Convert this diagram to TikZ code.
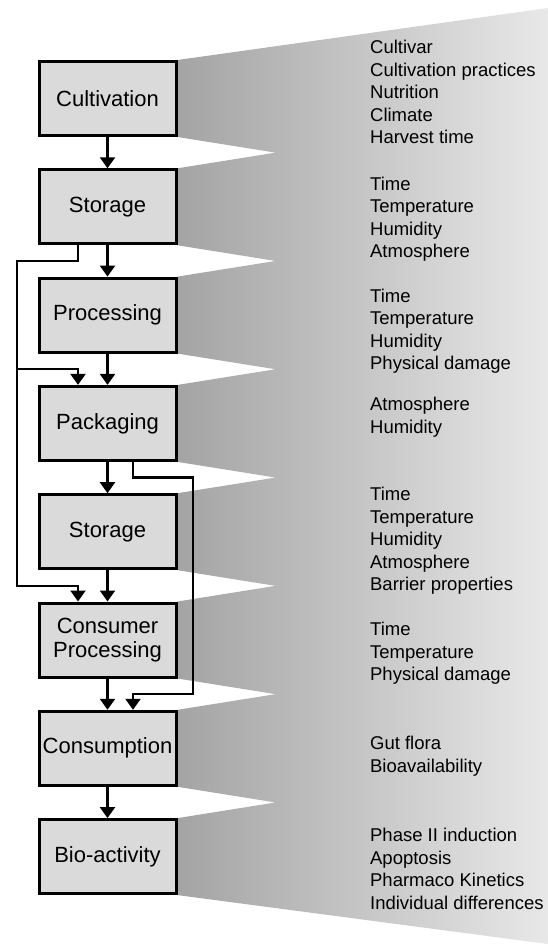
\documentclass[tikz,border=0pt]{standalone}
\usepackage{fontspec}
\setmainfont{Liberation Sans}
\usetikzlibrary{arrows.meta,calc,backgrounds}
\definecolor{boxgray}{HTML}{DADADA}
\definecolor{fandark}{HTML}{A4A4A4}
\definecolor{fanlight}{HTML}{E8E8E8}

\begin{document}
\begin{tikzpicture}[x=1pt, y=-1pt, node distance={108.3pt}, line width=2.3pt,
  main/.style = {draw, line width=3pt, fill=boxgray, minimum width=137pt, minimum height=74pt, inner sep=0pt, align=center, font=\fontsize{22}{24}\selectfont},
  fac/.style = {anchor=west, align=left, inner sep=0pt, font=\fontsize{18.5}{22.5}\selectfont},
  >={Triangle[width=15pt,length=11pt]}]
\useasboundingbox (0,0) rectangle (548,947);
\node[main] (1) at (107.5,98.5) {Cultivation};
\node[main] (2) [below of=1] {Storage};
\node[main] (3) [below of=2] {Processing};
\node[main] (4) [below of=3] {Packaging};
\node[main] (5) [below of=4] {Storage};
\node[main] (6) [below of=5] {Consumer\\Processing};
\node[main] (7) [below of=6] {Consumption};
\node[main] (8) [below of=7] {Bio-activity};
% gaps between the boxes
\coordinate (t12) at ($(1.south east)!.5!(2.north east)$);
\coordinate (t23) at ($(2.south east)!.5!(3.north east)$);
\coordinate (t34) at ($(3.south east)!.5!(4.north east)$);
\coordinate (t45) at ($(4.south east)!.5!(5.north east)$);
\coordinate (t56) at ($(5.south east)!.5!(6.north east)$);
\coordinate (t67) at ($(6.south east)!.5!(7.north east)$);
\coordinate (t78) at ($(7.south east)!.5!(8.north east)$);
% rails of the bypass lines
\coordinate (L) at (17,0);
\coordinate (R) at (193,0);
\coordinate (a2) at ([xshift=-29.5pt]2.south);
\coordinate (a4) at ([xshift=-29.5pt]4.north);
\coordinate (a6) at ([xshift=-29.5pt]6.north);
\coordinate (b4) at ([xshift=25.5pt]4.south);
\coordinate (b7) at ([xshift=25.5pt]7.north);
\begin{scope}[on background layer]
\shade[left color=fandark, right color=fanlight] (1.north east) -- (548,8) -- (548,944) -- (8.south east)
  -- (8.north east) -- ($(t78)+(98,0)$) -- (7.south east)
  -- (7.north east) -- ($(t67)+(98,0)$) -- (6.south east)
  -- (6.north east) -- ($(t56)+(98,0)$) -- (5.south east)
  -- (5.north east) -- ($(t45)+(98,0)$) -- (4.south east)
  -- (4.north east) -- ($(t34)+(98,0)$) -- (3.south east)
  -- (3.north east) -- ($(t23)+(98,0)$) -- (2.south east)
  -- (2.north east) -- ($(t12)+(98,0)$) -- (1.south east) -- cycle;
\end{scope}
\node[fac] (f1) at (369,92) {Cultivar\\Cultivation practices\\Nutrition\\Climate\\Harvest time};
\node[fac] (f2) at (369,219) {Time\\Temperature\\Humidity\\Atmosphere};
\node[fac] (f3) at (369,331) {Time\\Temperature\\Humidity\\Physical damage};
\node[fac] (f4) at (369,417) {Atmosphere\\Humidity};
\node[fac] (f5) at (369,541) {Time\\Temperature\\Humidity\\Atmosphere\\Barrier properties};
\node[fac] (f6) at (369,653.5) {Time\\Temperature\\Physical damage};
\node[fac] (f7) at (369,756) {Gut flora\\Bioavailability};
\node[fac] (f8) at (369,869) {Phase II induction\\Apoptosis\\Pharmaco Kinetics\\Individual differences};
\draw[->] (1) -- (2);
\draw[->] (2) -- (3);
\draw[->] (3) -- (4);
\draw[->] (4) -- (5);
\draw[->] (5) -- (6);
\draw[->] (6) -- (7);
\draw[->] (7) -- (8);
\draw[->] (a2) -- (a2 |- t23) -- (L |- t23) -- (L |- t56) -- (a6 |- t56) -- (a6);
\draw[->] (L |- t34) -- (a4 |- t34) -- (a4);
\draw[->] (b4) -- (b4 |- t45) -- (R |- t45) -- (R |- t67) -- (b7 |- t67) -- (b7);
\end{tikzpicture}
\end{document}
